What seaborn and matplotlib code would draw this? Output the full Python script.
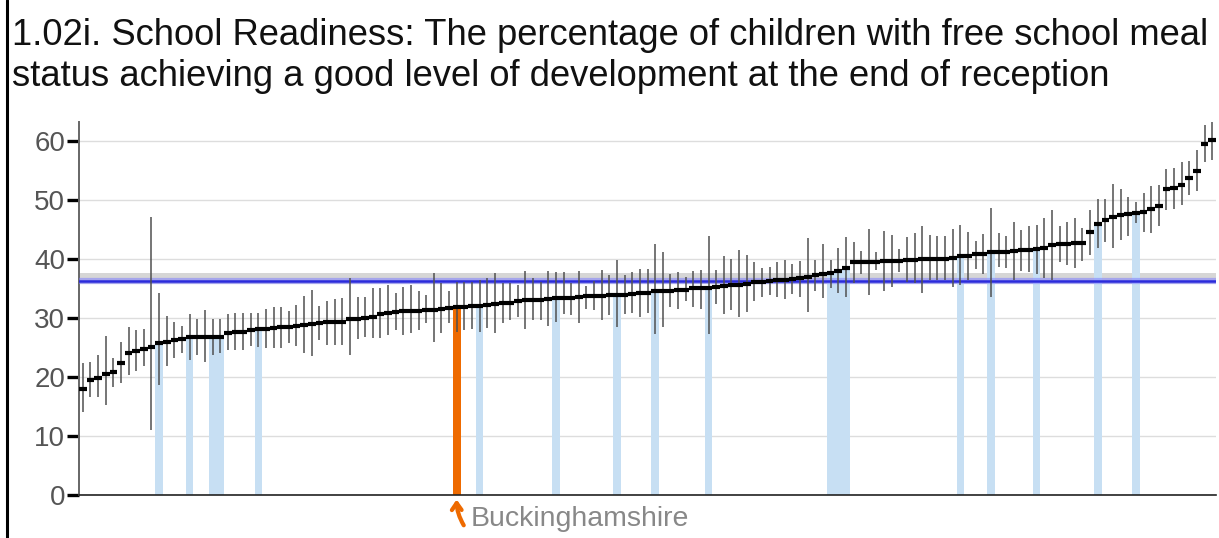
import matplotlib
matplotlib.use("Agg")
import matplotlib.pyplot as plt
import numpy as np
import pandas as pd
import seaborn as sns

# ---------------- data ----------------
values = [17.9, 19.5, 19.9, 20.6, 20.8, 22.3, 24.1, 24.4, 24.8, 25.1,
          25.7, 26.0, 26.3, 26.5, 26.7, 26.8, 26.8, 26.8, 26.8, 27.5,
          27.7, 27.7, 27.9, 28.1, 28.2, 28.3, 28.4, 28.4, 28.6, 28.8,
          29.0, 29.2, 29.3, 29.3, 29.4, 29.8, 29.9, 30.0, 30.1, 30.7,
          30.9, 31.0, 31.1, 31.2, 31.2, 31.3, 31.4, 31.6, 31.7, 31.8,
          31.9, 32.0, 32.1, 32.2, 32.4, 32.5, 32.6, 32.8, 33.0, 33.0,
          33.0, 33.2, 33.3, 33.3, 33.4, 33.6, 33.7, 33.7, 33.7, 33.8,
          33.8, 33.9, 34.0, 34.2, 34.3, 34.5, 34.5, 34.6, 34.7, 34.8,
          35.0, 35.0, 35.1, 35.3, 35.4, 35.5, 35.6, 35.8, 36.0, 36.1,
          36.3, 36.4, 36.5, 36.6, 36.8, 37.0, 37.2, 37.4, 37.6, 37.9,
          38.5, 39.4, 39.4, 39.4, 39.5, 39.6, 39.6, 39.7, 39.8, 39.8,
          39.9, 40.0, 40.0, 40.0, 40.1, 40.4, 40.5, 40.8, 40.8, 41.1,
          41.2, 41.2, 41.3, 41.5, 41.5, 41.7, 41.8, 42.4, 42.5, 42.5,
          42.6, 42.6, 44.5, 45.9, 46.6, 47.1, 47.4, 47.6, 47.8, 47.9,
          48.4, 48.9, 51.8, 51.9, 52.5, 53.6, 54.9, 59.5, 60.1]
lower = [14.1, 16.6, 16.6, 15.3, 18.4, 19.0, 20.4, 21.1, 21.8, 11.0,
         18.7, 21.9, 23.2, 24.0, 22.9, 23.7, 22.5, 23.7, 24.0, 24.5,
         24.6, 24.5, 25.3, 25.1, 25.0, 25.0, 25.0, 25.7, 25.3, 24.1,
         23.5, 26.3, 25.4, 25.4, 25.4, 23.7, 26.4, 26.8, 26.6, 26.6,
         27.1, 27.9, 27.1, 27.4, 28.0, 29.1, 26.0, 27.4, 29.2, 27.7,
         28.0, 28.1, 27.7, 28.3, 27.5, 29.2, 29.6, 30.2, 28.1, 29.6,
         29.7, 28.7, 29.4, 30.7, 30.5, 29.2, 31.5, 31.3, 29.7, 30.5,
         28.4, 30.7, 30.9, 30.1, 30.8, 27.3, 28.4, 31.8, 31.6, 32.8,
         31.8, 31.6, 27.3, 32.4, 30.6, 31.4, 30.1, 31.0, 32.9, 33.6,
         33.9, 33.6, 33.2, 34.1, 33.6, 31.0, 34.6, 33.3, 35.0, 34.2,
         33.6, 35.9, 37.5, 33.9, 38.1, 34.6, 35.3, 37.7, 36.0, 35.9,
         34.3, 36.4, 36.4, 36.4, 35.3, 35.6, 36.4, 38.2, 37.4, 33.6,
         38.6, 38.4, 36.4, 38.0, 37.7, 37.4, 36.7, 36.5, 39.4, 38.9,
         38.5, 39.6, 40.7, 41.8, 42.9, 41.8, 43.2, 43.9, 46.0, 44.6,
         44.3, 45.6, 48.3, 48.4, 49.1, 50.8, 51.5, 56.4, 56.8]
upper = [22.3, 22.5, 23.7, 27.0, 23.3, 26.0, 28.4, 27.9, 28.1, 47.1,
         34.3, 30.3, 29.4, 28.6, 30.6, 29.8, 31.4, 29.9, 29.8, 30.6,
         30.9, 30.8, 30.8, 30.9, 31.6, 31.9, 31.8, 31.2, 32.2, 33.7,
         34.7, 32.0, 32.8, 33.2, 33.4, 36.7, 33.6, 33.6, 35.1, 35.1,
         35.5, 34.3, 35.3, 35.5, 34.6, 33.9, 37.6, 35.9, 34.5, 36.1,
         36.1, 36.0, 36.5, 36.7, 37.6, 35.9, 35.9, 35.6, 38.0, 36.7,
         36.1, 37.9, 37.7, 37.7, 35.9, 38.0, 35.4, 36.3, 38.1, 37.3,
         39.8, 37.3, 37.7, 38.2, 38.2, 42.5, 41.2, 37.4, 37.7, 37.0,
         37.9, 38.1, 43.9, 38.1, 40.5, 40.0, 41.5, 40.7, 39.4, 38.4,
         38.7, 39.5, 39.8, 39.1, 39.6, 43.5, 39.8, 42.5, 39.8, 41.8,
         43.7, 42.8, 41.3, 45.0, 41.1, 44.7, 44.0, 41.7, 43.7, 44.3,
         45.6, 44.0, 43.8, 43.8, 45.0, 45.7, 44.6, 43.1, 44.2, 48.6,
         44.3, 43.8, 46.2, 44.9, 45.6, 45.7, 46.9, 48.3, 45.6, 46.2,
         46.9, 45.3, 48.3, 50.1, 50.2, 52.7, 51.8, 50.4, 49.7, 51.1,
         52.3, 52.5, 55.2, 55.4, 56.3, 56.6, 58.4, 62.6, 63.2]
comparator_idx = [10, 14, 17, 18, 23, 52, 62, 70, 75, 82,
                  98, 99, 100, 115, 119, 125, 133, 138]
local_idx = 49
local_name = "Buckinghamshire"
england_value = 36.2
england_lower = 35.8
england_upper = 37.6
yticks = [0, 10, 20, 30, 40, 50, 60]
ymax = 63.2
title_lines = ["1.02i. School Readiness: The percentage of children with free school meal",
               "status achieving a good level of development at the end of reception"]

# ---------------- styles ----------------
C_COMP = "#c7dff3"
C_LOCAL = "#ee6a00"
C_ENG = "#2b2bdc"
C_BAND = "#d6d6d6"
C_ERR = "#505050"
C_TICKLBL = "#555555"

sns.set_style("white")
plt.rcParams["font.family"] = ["Liberation Sans", "DejaVu Sans"]

n = len(values)
areas = [f"Area {i + 1}" for i in range(n)]
groups = ["other"] * n
for i in comparator_idx:
    groups[i] = "comparator"
groups[local_idx] = "local"
df = pd.DataFrame({"area": areas, "value": values, "lower": lower,
                   "upper": upper, "group": groups})
hl = df[df["group"] != "other"]

W, H = 1219, 538
fig = plt.figure(figsize=(W / 100, H / 100), dpi=100)
ax = fig.add_axes([79 / W, (H - 495.3) / H, (1216 - 79) / W, (495.3 - 121.7) / H])

# England band
ax.axhspan(england_lower, england_upper, color=C_BAND, zorder=1, lw=0)

# highlighted bars
sns.barplot(data=hl, x="area", y="value", order=areas, hue="group",
            palette={"comparator": C_COMP, "local": C_LOCAL},
            dodge=False, width=1.0, legend=False, ax=ax, zorder=2,
            linewidth=0, errorbar=None, saturation=1)

ax.axhline(england_value, color="#7d7dff", lw=4.5, alpha=0.55, zorder=3)
ax.axhline(england_value, color=C_ENG, lw=1.8, zorder=3.1)

pos = np.arange(n)
ax.vlines(pos, df["lower"], df["upper"], color=C_ERR, lw=1.1, zorder=4)
ax.hlines(df["value"], pos - 0.5, pos + 0.5, color="black", lw=3.0, zorder=5)

ax.set_xlim(-0.5, n - 0.5)
ax.set_ylim(0, ymax)
ax.set_yticks(yticks)
ax.set_yticklabels([str(t) for t in yticks])
ax.set_xticks([])
ax.set_xlabel("")
ax.set_ylabel("")
ax.grid(axis="y", color="#dddddd", lw=1.0, zorder=0)
ax.set_axisbelow(True)
ax.tick_params(axis="y", length=9, width=2.4, color="black", pad=1,
               labelsize=20, labelcolor=C_TICKLBL, left=True)
for s in ["top", "right"]:
    ax.spines[s].set_visible(False)
ax.spines["left"].set_color("#666666")
ax.spines["left"].set_linewidth(1.4)
ax.spines["bottom"].set_color("#222222")
ax.spines["bottom"].set_linewidth(1.2)

# local area annotation
ax.annotate("", xy=(local_idx, 0), xycoords="data",
            xytext=(7, -30), textcoords="offset pixels",
            arrowprops=dict(arrowstyle="->,head_length=0.5,head_width=0.35",
                            color=C_LOCAL, lw=3.0, shrinkA=0, shrinkB=3,
                            connectionstyle="arc3,rad=-0.15"),
            annotation_clip=False)
ax.annotate(local_name, xy=(local_idx, 0), xycoords="data",
            xytext=(14, -24), textcoords="offset pixels",
            ha="left", va="center", fontsize=20.5, color="#888888",
            annotation_clip=False)

# title
fig.text(12 / W, 1 - 45 / H, title_lines[0], ha="left", va="baseline",
         fontsize=26.2, color="#111111")
fig.text(12 / W, 1 - 86 / H, title_lines[1], ha="left", va="baseline",
         fontsize=26.2, color="#111111")

# panel border
fig.add_artist(plt.Line2D([7 / W, 7 / W], [0, 1], transform=fig.transFigure,
                          color="black", lw=2.2))

fig.savefig("out.png", dpi=100)
